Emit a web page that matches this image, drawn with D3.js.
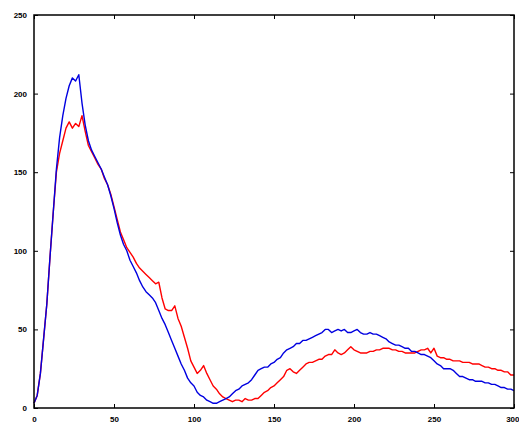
<!DOCTYPE html>
<html>
<head>
<meta charset="utf-8">
<script src="https://cdn.jsdelivr.net/npm/d3@7"></script>
<style>
  html, body { margin: 0; padding: 0; background: #fff; }
  svg { display: block; }
  .tick text { font-family: "Liberation Sans", Arial, sans-serif; font-weight: bold; font-size: 8px; fill: #000; }
</style>
</head>
<body>
<svg id="chart" width="519" height="428"></svg>
<script>
// Sample positions (every 2 units along x)
const samples = d3.range(0, 301, 2);

// Blue series
const blueValues = [
  3, 8, 22, 44, 66, 96, 124, 152, 172, 186,
  197, 205, 210, 208, 212, 194, 180, 170, 164, 160,
  156, 152, 147, 142, 135, 127, 118, 110, 104, 100,
  94, 90, 86, 81, 77, 74, 72, 70, 67, 62,
  57, 53, 48, 43, 38, 33, 28, 24, 19, 16,
  14, 10, 8, 7, 5, 4, 3, 3, 4, 5,
  6, 7, 9, 11, 12, 14, 15, 16, 18, 21,
  24, 25, 26, 26, 28, 29, 31, 32, 35, 37,
  38, 39, 41, 41, 43, 43, 44, 45, 46, 47,
  48, 50, 50, 48, 49, 50, 49, 50, 48, 48,
  49, 50, 48, 47, 47, 48, 47, 47, 46, 45,
  44, 42, 41, 40, 40, 39, 38, 38, 36, 36,
  35, 34, 34, 33, 32, 30, 28, 27, 25, 25,
  25, 24, 22, 20, 20, 19, 18, 18, 17, 17,
  17, 16, 16, 15, 15, 14, 13, 13, 12, 12,
  11
];

// Red series
const redValues = [
  3, 8, 22, 44, 66, 96, 124, 150, 162, 170,
  178, 182, 178, 181, 179, 186, 176, 167, 163, 159,
  155, 152, 146, 142, 136, 128, 120, 112, 107, 102,
  99, 96, 92, 89, 87, 85, 83, 81, 79, 80,
  70, 63, 62, 62, 65, 57, 52, 45, 38, 30,
  26, 22, 24, 27, 22, 18, 14, 12, 9, 7,
  6, 5, 4, 5, 5, 4, 6, 5, 5, 6,
  6, 8, 10, 11, 13, 14, 16, 18, 20, 24,
  25, 23, 22, 24, 26, 28, 29, 29, 30, 31,
  31, 33, 34, 34, 37, 35, 34, 35, 37, 39,
  37, 36, 35, 35, 35, 36, 36, 37, 37, 38,
  38, 38, 37, 37, 36, 36, 35, 35, 35, 35,
  36, 37, 37, 38, 35, 38, 33, 32, 32, 31,
  31, 30, 30, 30, 29, 29, 29, 28, 28, 28,
  27, 26, 26, 25, 25, 24, 24, 23, 23, 21,
  21
];

const xTicks = [0, 50, 100, 150, 200, 250, 300];
const yTicks = [0, 50, 100, 150, 200, 250];

const svg = d3.select("#chart");
const plotLeft = 34, plotRight = 514, plotTop = 15, plotBottom = 408;

const x = d3.scaleLinear().domain([0, 300]).range([plotLeft, plotRight]);
const y = d3.scaleLinear().domain([0, 250]).range([plotBottom, plotTop]);

// Series lines
const line = d3.line()
  .x((d, i) => x(samples[i]))
  .y(d => y(d));

svg.append("path")
  .datum(redValues)
  .attr("fill", "none")
  .attr("stroke", "#ff0000")
  .attr("stroke-width", 1.4)
  .attr("stroke-linejoin", "round")
  .attr("d", line);

svg.append("path")
  .datum(blueValues)
  .attr("fill", "none")
  .attr("stroke", "#0000e0")
  .attr("stroke-width", 1.4)
  .attr("stroke-linejoin", "round")
  .attr("d", line);

// Axes with inward ticks on all four sides
function styleAxis(g) {
  g.select(".domain").remove();
  g.selectAll(".tick line").attr("stroke", "#000").attr("stroke-width", 1);
}

const xAxisG = svg.append("g")
  .attr("transform", `translate(0,${plotBottom})`)
  .call(d3.axisBottom(x).tickValues(xTicks).tickSizeInner(-4).tickSizeOuter(0).tickPadding(8))
  .call(styleAxis);

// keep the last x label inside the canvas edge
xAxisG.selectAll(".tick text")
  .filter(d => d === xTicks[xTicks.length - 1])
  .attr("text-anchor", "end")
  .attr("dx", "5");

svg.append("g")
  .attr("transform", `translate(${plotLeft},0)`)
  .call(d3.axisLeft(y).tickValues(yTicks).tickSizeInner(-4).tickSizeOuter(0).tickPadding(7))
  .call(styleAxis);

svg.append("g")
  .attr("transform", `translate(0,${plotTop})`)
  .call(d3.axisTop(x).tickValues(xTicks).tickSizeInner(-4).tickSizeOuter(0).tickFormat(""))
  .call(styleAxis);

svg.append("g")
  .attr("transform", `translate(${plotRight},0)`)
  .call(d3.axisRight(y).tickValues(yTicks).tickSizeInner(-4).tickSizeOuter(0).tickFormat(""))
  .call(styleAxis);

// Plot frame
svg.append("rect")
  .attr("x", plotLeft)
  .attr("y", plotTop)
  .attr("width", plotRight - plotLeft)
  .attr("height", plotBottom - plotTop)
  .attr("fill", "none")
  .attr("stroke", "#000")
  .attr("stroke-width", 1.5);
</script>
</body>
</html>
